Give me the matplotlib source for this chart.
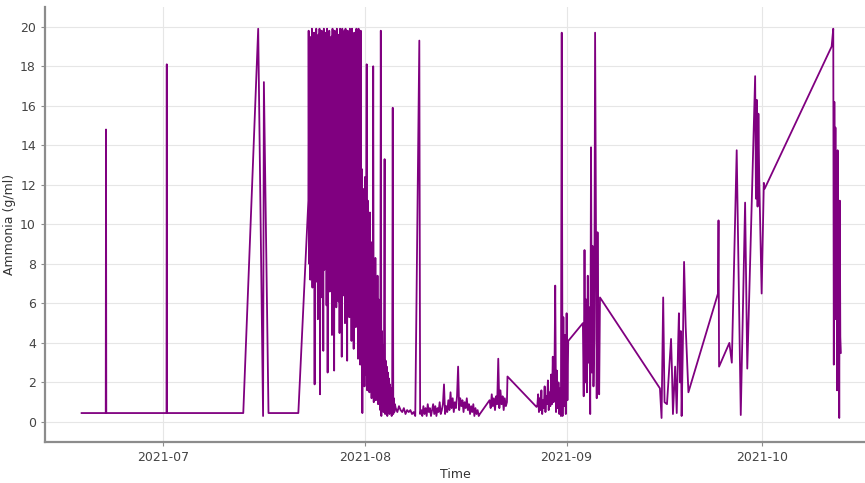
import matplotlib
matplotlib.use("Agg")
import matplotlib.pyplot as plt
import matplotlib.dates as mdates
import numpy as np
import pandas as pd

plt.rcParams['font.family'] = ['DejaVu Sans']

# single readings (time, ammonia g/ml)
point_times = [
    "2021-06-18 12:00", "2021-06-22 05:00", "2021-06-22 06:00", "2021-06-22 07:00",
    "2021-07-01 13:00", "2021-07-01 14:00", "2021-07-01 15:00", "2021-07-13 08:00",
    "2021-07-15 15:00", "2021-07-16 09:00", "2021-07-16 12:00", "2021-07-17 05:00",
    "2021-07-21 19:00", "2021-07-23 08:00",
    "2021-08-09 09:00", "2021-08-09 12:00",
    "2021-08-22 22:00", "2021-08-27 09:00",
    "2021-09-03 12:00",
    "2021-09-15 08:00", "2021-09-15 14:00", "2021-09-15 20:00", "2021-09-16 01:00",
    "2021-09-16 10:00", "2021-09-17 01:00", "2021-09-17 04:00", "2021-09-17 08:00",
    "2021-09-17 16:00", "2021-09-17 22:00", "2021-09-18 03:00", "2021-09-18 06:00",
    "2021-09-18 10:00", "2021-09-18 13:00", "2021-09-18 16:00", "2021-09-18 20:00",
    "2021-09-19 01:00", "2021-09-19 07:00", "2021-09-19 17:00",
    "2021-09-24 06:00", "2021-09-24 08:00", "2021-09-24 10:00", "2021-09-26 00:00",
    "2021-09-26 09:00", "2021-09-27 03:00", "2021-09-27 18:00", "2021-09-28 10:00",
    "2021-09-28 18:00", "2021-09-29 23:00", "2021-09-30 02:00", "2021-09-30 05:00",
    "2021-09-30 08:00", "2021-09-30 11:00", "2021-09-30 14:00", "2021-09-30 23:00",
    "2021-10-01 07:00", "2021-10-01 10:00", "2021-10-11 17:00", "2021-10-11 23:00",
]
point_vals = [
    0.45, 0.45, 14.8, 0.45,
    0.45, 18.1, 0.45, 0.45,
    19.9, 0.3, 17.2, 0.45,
    0.45, 11.2,
    19.3, 0.4,
    2.3, 0.76,
    5.0,
    1.7, 0.2, 6.3, 1.0,
    0.9, 4.2, 2.8, 0.4,
    2.8, 0.45, 3.9, 5.5,
    2.0, 4.6, 0.3, 3.4,
    8.1, 4.8, 1.5,
    6.5, 10.2, 2.8, 4.0,
    3.0, 13.75, 0.35, 11.1,
    2.7, 17.5, 11.3, 16.3,
    10.9, 15.6, 12.4, 6.5,
    12.1, 11.8, 19.0, 19.9,
]

# logged bursts: (start, step, readings)
late_july = [
    19.8, 8.0, 19.5, 7.2, 18.9, 9.5, 19.9, 6.8,
    17.6, 8.4, 19.7, 1.9, 18.2, 10.3, 19.9, 7.1, 16.8, 5.2, 19.6, 8.8,
    19.9, 1.4, 17.9, 9.0, 19.8, 6.3, 14.9, 3.6, 19.9, 7.7, 18.6, 10.1,
    19.7, 5.9, 19.9, 2.5, 16.4, 8.3, 19.8, 6.6, 18.1, 9.2, 19.5, 4.4,
    19.9, 7.0, 17.3, 2.6, 19.8, 8.9, 15.7, 5.8, 19.9, 10.4, 18.4, 6.1,
    19.6, 4.5, 19.9, 8.1, 17.9, 3.3, 19.9, 9.6, 16.2, 6.4, 19.8, 5.0,
    19.9, 7.5, 18.0, 3.1, 19.8, 8.6, 14.2, 5.3, 19.9, 6.2, 17.5, 4.1,
    19.9, 5.6, 15.8, 3.7, 19.7, 7.9, 18.3, 4.8, 19.9, 6.0, 13.9, 3.2,
    19.9, 5.1, 16.7, 2.9, 19.8, 4.6, 12.8, 0.45,
]
early_aug = [
    11.8, 2.1, 10.5, 1.8,
    12.4, 2.4, 9.8, 18.1, 1.6, 11.2, 3.0, 8.9, 1.5, 10.6, 2.2, 9.1,
    1.2, 8.5, 2.6, 18.0, 1.0, 7.8, 2.0, 8.3, 1.1, 6.9, 1.8, 7.4,
    0.9, 6.2, 1.4, 5.1, 0.6, 19.8, 0.3, 4.6, 1.2, 3.9, 0.5, 4.4,
    13.3, 0.4, 3.1, 0.8, 2.8, 0.3, 2.5, 1.0, 2.2, 0.4, 1.9, 0.6,
    1.7, 0.3, 1.5, 15.9, 0.4, 1.2, 0.5, 0.9,
]
aug_quiet = [0.7, 0.5, 0.8, 0.6, 0.5, 0.7, 0.4, 0.6, 0.5, 0.6, 0.4, 0.5, 0.3]
mid_aug = [
    0.6, 0.3,
    0.8, 0.4, 0.7, 0.3, 0.9, 0.5,
    0.7, 0.3, 0.6, 0.9, 0.4, 0.8,
    0.3, 0.7, 0.5, 1.0, 0.4, 0.6,
    0.9, 1.9, 0.4, 0.8, 0.5, 1.1,
    0.6, 1.5, 0.7, 1.2, 0.5, 1.0,
    0.7, 1.3, 2.8, 0.6, 1.2, 0.8,
    1.1, 0.5, 1.0, 0.7, 1.2, 0.6,
    0.9, 0.4, 0.8, 0.5, 0.9, 0.3,
    0.7, 0.4, 0.6, 0.3, 0.4,
]
aug_20 = [1.1, 0.7, 1.4, 0.8, 1.2, 0.6, 1.3, 0.9, 3.2, 0.7, 1.6, 0.9, 1.3, 0.6, 1.2, 0.8, 1.0]
end_aug = [
    0.8, 1.4, 0.5, 1.2,
    0.6, 1.6, 0.4, 1.1, 0.7, 1.8, 0.5, 1.3,
    0.9, 2.1, 0.6, 1.5, 0.8, 2.4, 0.9, 3.3,
    1.0, 2.2, 6.9, 0.5, 2.6, 0.7, 2.0, 0.4,
    1.7, 0.3, 19.7, 0.3, 5.3, 0.8, 4.4, 0.4,
    5.5, 1.1, 4.1,
]
early_sep = [
    1.3, 8.7, 2.0,
    6.2, 1.5, 7.4, 3.0, 5.8, 0.4, 13.9, 2.5,
    8.9, 1.8, 4.2, 19.7, 10.5, 1.2, 9.6, 3.5,
    1.4, 6.3,
]
mid_oct = [2.9, 16.2, 8.5, 14.9, 5.2, 12.6, 1.6, 13.75, 6.8, 10.4, 0.2, 11.2, 4.3, 3.5]

bursts = [
    ("2021-07-23 09:00", "2h", late_july),
    ("2021-07-31 17:00", "2h", early_aug),
    ("2021-08-05 18:00", "6h", aug_quiet),
    ("2021-08-09 16:00", "4h", mid_aug),
    ("2021-08-20 04:00", "4h", aug_20),
    ("2021-08-27 12:00", "3h", end_aug),
    ("2021-09-03 15:00", "3h", early_sep),
    ("2021-10-12 01:00", "2h", mid_oct),
]

parts = [pd.Series(point_vals, index=pd.to_datetime(point_times))]
for start, step, vals in bursts:
    parts.append(pd.Series(vals, index=pd.date_range(start, periods=len(vals), freq=step)))
ammonia = pd.concat(parts).sort_index()

fig = plt.figure(figsize=(8.65, 4.83), dpi=100)
ax = fig.add_axes([0.052, 0.0855, 0.948, 0.9])

ax.plot(ammonia.index, ammonia.values, color='purple', linewidth=1.3)

ax.set_xlim(pd.Timestamp("2021-06-12 21:00"), pd.Timestamp("2021-10-16 20:00"))
ax.set_ylim(-1, 21)
ax.set_yticks(np.arange(0, 21, 2))
ax.xaxis.set_major_locator(mdates.MonthLocator())
ax.xaxis.set_major_formatter(mdates.DateFormatter('%Y-%m'))

ax.grid(True, color='#e6e6e6', linewidth=0.8)
ax.set_axisbelow(True)
for side in ['top', 'right']:
    ax.spines[side].set_visible(False)
for side in ['left', 'bottom']:
    ax.spines[side].set_color('#8c8c8c')
    ax.spines[side].set_linewidth(1.6)
ax.tick_params(colors='#8c8c8c', labelcolor='#444444', length=3, labelsize=9)

ax.set_xlabel('Time', fontsize=9, color='#333333', labelpad=3)
ax.set_ylabel('Ammonia (g/ml)', fontsize=9, color='#333333', labelpad=3)

fig.savefig('out.png', dpi=100)
